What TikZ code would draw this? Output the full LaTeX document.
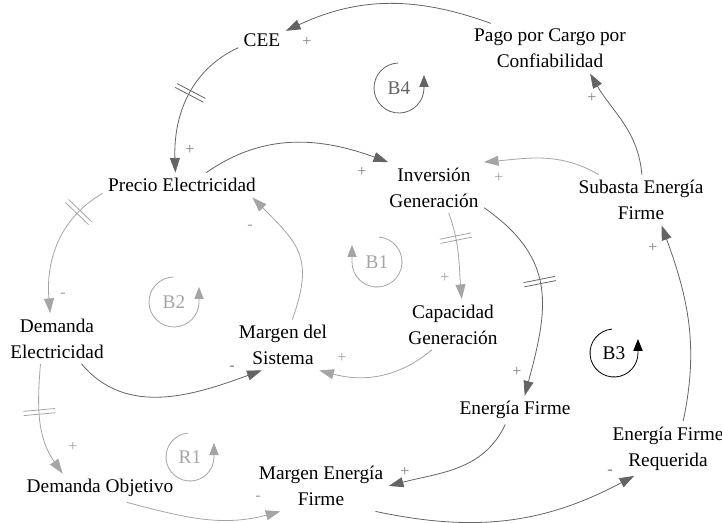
\documentclass[tikz,border=0pt]{standalone}
\usepackage{fontspec}
\setmainfont{Liberation Serif}
\usetikzlibrary{arrows.meta,decorations.markings}
\definecolor{linkdark}{RGB}{100,100,100}
\definecolor{linklight}{RGB}{165,165,165}
\definecolor{signdark}{RGB}{125,125,125}
\definecolor{signlight}{RGB}{160,160,160}

\begin{document}
\begin{tikzpicture}[
  x=0.75pt, y=0.75pt,
  var/.style={inner sep=4pt, align=center, font=\fontsize{14.5}{19.5}\selectfont},
  link/.style={-{Triangle[length=11pt,width=7.5pt]}, line width=0.6pt},
  dk/.style={link, color=linkdark},
  lt/.style={link, color=linklight},
  sgn/.style={inner sep=0pt, font=\fontsize{12}{14}\selectfont},
  delaymark/.style={postaction={decorate}, decoration={markings,
    mark=at position #1 with {\draw[-] (-1.6pt,-12pt) -- (-1.6pt,12pt) (1.6pt,-12pt) -- (1.6pt,12pt);}}},
  loopname/.style={inner sep=0pt, font=\fontsize{14.5}{17}\selectfont},
  looparrow/.style={-{Triangle[length=9pt,width=7pt]}, line width=0.6pt}
]
\useasboundingbox (0,0) rectangle (722,522);

% variables
\node[var] (cee) at (262,482) {CEE};
\node[var] (pago) at (550,473.5) {Pago por Cargo por\\Confiabilidad};
\node[var] (precio) at (182,337) {Precio Electricidad};
\node[var] (inversion) at (434,334.5) {Inversión\\Generación};
\node[var] (subasta) at (641,322) {Subasta Energía\\Firme};
\node[var] (demelec) at (57,183.5) {Demanda\\Electricidad};
\node[var] (margen) at (283,177) {Margen del\\Sistema};
\node[var] (capacidad) at (453,197.5) {Capacidad\\Generación};
\node[var] (efirme) at (515,112) {Energía Firme};
\node[var] (efreq) at (668,73.5) {Energía Firme\\Requerida};
\node[var] (mef) at (321,36) {Margen Energía\\Firme};
\node[var] (demobj) at (100,34) {Demanda Objetivo};

% links
\draw[dk] (pago.157) to[out=160,in=25] (cee.21);
\draw[dk, delaymark=0.45] (cee.198) to[out=205,in=92] (precio.118);
\draw[dk] (precio.27) to[out=35,in=160] (inversion.151);
\draw[lt] (subasta.149) to[out=150,in=5] (inversion.27);
\draw[dk] (subasta.88) to[out=95,in=-60] (pago.-32);
\draw[dk] (efreq.61) to[out=78,in=-70] (subasta.-51);
\draw[lt, delaymark=0.3] (inversion.-60) to[out=-70,in=95] (capacidad.71);
\draw[dk, delaymark=0.45] (inversion.-22) to[out=-35,in=75,looseness=1.2] (efirme.56);
\draw[lt] (capacidad.230) to[out=220,in=-15] (margen.-35);
\draw[lt] (margen.70) to[out=70,in=-45,looseness=1.3] (precio.-10);
\draw[lt, delaymark=0.22] (precio.186) to[out=210,in=95] (demelec.105);
\draw[dk] (demelec.-46) to[out=-50,in=200] (margen.230);
\draw[lt, delaymark=0.42] (demelec.237) to[out=265,in=125] (demobj.159);
\draw[lt] (demobj.-28) to[out=-15,in=195] (mef.212);
\draw[dk] (efirme.236) to[out=245,in=15] (mef.0);
\draw[dk] (mef.-25) to[out=-12,in=208] (efreq.219);

% polarities
\node[sgn, signdark] (s1) at (307,480) {+};
\node[sgn, signdark] (s2) at (190,372) {+};
\node[sgn, signdark] (s3) at (362,350) {+};
\node[sgn, signlight] (s4) at (499,344) {+};
\node[sgn, signdark] (s5) at (592,424) {+};
\node[sgn, signdark] (s6) at (653,274) {+};
\node[sgn, signlight] (s7) at (445,244) {+};
\node[sgn, signdark] (s8) at (517,150) {+};
\node[sgn, signlight] (s9) at (342,164) {+};
\node[sgn, signlight] (s10) at (250,295) {-};
\node[sgn, signlight] (s11) at (63,227) {-};
\node[sgn, signdark] (s12) at (232,154) {-};
\node[sgn, signlight] (s13) at (73,75) {+};
\node[sgn, signlight] (s14) at (258,24) {-};
\node[sgn, signdark] (s15) at (405,50) {+};
\node[sgn, signdark] (s16) at (610,50) {-};

% loops
\node[loopname, linkdark] (b4) at (399,434) {B4};
\draw[looparrow, linkdark] ([shift={(92:25)}]b4.center) arc[start angle=92, end angle=360, radius=25] -- ++(0,13);
\node[loopname, linklight] (b1) at (377,260) {B1};
\draw[looparrow, linklight] ([shift={(85:25)}]b1.center) arc[start angle=85, end angle=-180, radius=25] -- ++(0,17);
\node[loopname, linklight] (b2) at (174,220) {B2};
\draw[looparrow, linklight] ([shift={(92:25)}]b2.center) arc[start angle=92, end angle=360, radius=25] -- ++(0,15);
\node[loopname, linklight] (r1) at (190,65) {R1};
\draw[looparrow, linklight] ([shift={(95:24)}]r1.center) arc[start angle=95, end angle=360, radius=24] -- ++(0,14);
\node[loopname] (b3) at (614,169) {B3};
\draw[looparrow] ([shift={(95:24)}]b3.center) arc[start angle=95, end angle=360, radius=24] -- ++(0,14);
\end{tikzpicture}
\end{document}
